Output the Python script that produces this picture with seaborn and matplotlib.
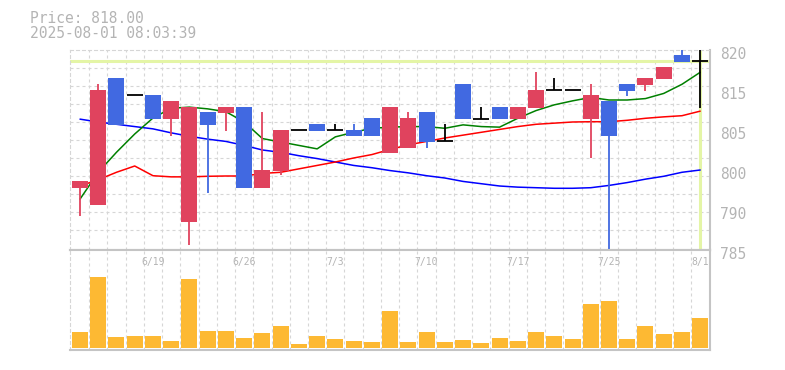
import numpy as np
import pandas as pd
import matplotlib
matplotlib.use("Agg")
import matplotlib.pyplot as plt
import matplotlib.transforms as mtransforms
import seaborn as sns

# ---------------- data ----------------
title_price = "Price: 818.00"
title_time = "2025-08-01 08:03:39"
current_price = 818.0

opens  = [795.9, 792.9, 815.1, 812.1, 812.1, 808.0, 789.9, 809.15, 809.0, 810.0,
          795.9, 798.9, 806.0, 807.05, 806.0, 806.0, 808.1, 802.0, 802.85, 809.15,
          804.1, 814.1, 808.0, 810.0, 808.0, 809.9, 813.0, 813.0, 808.0, 811.1,
          814.05, 813.9, 815.0, 819.2, 818.0]
closes = [797.1, 813.0, 806.9, 812.1, 808.0, 811.1, 810.0, 806.9, 810.0, 795.9,
          799.0, 806.0, 806.0, 805.9, 806.0, 805.0, 805.0, 810.0, 808.1, 803.9,
          804.1, 807.9, 808.0, 808.0, 810.0, 813.0, 813.0, 813.0, 812.1, 805.0,
          812.9, 815.1, 817.0, 817.9, 818.0]
highs  = [797.1, 814.05, 815.1, 812.1, 812.1, 811.1, 810.0, 809.15, 810.0, 810.0,
          809.15, 806.0, 806.0, 807.05, 807.05, 807.05, 808.1, 810.0, 809.15, 809.15,
          807.05, 814.1, 810.0, 810.0, 810.0, 816.15, 815.1, 813.0, 814.05, 811.1,
          814.05, 815.1, 817.0, 820.3, 820.3]
lows   = [791.0, 792.9, 806.9, 812.1, 808.0, 805.0, 785.9, 795.0, 805.9, 795.9,
          795.9, 798.1, 806.0, 805.9, 806.0, 805.0, 805.0, 802.0, 802.85, 802.85,
          804.1, 807.9, 808.0, 808.0, 808.0, 809.9, 813.0, 813.0, 801.05, 784.0,
          812.0, 812.9, 815.0, 817.9, 809.8]

ma_short = [793.9, 798.6, 802.1, 805.3, 808.1, 809.8, 810.0, 809.7, 809.2, 807.4,
            804.5, 803.9, 803.3, 802.7, 804.8, 805.6, 806.3, 806.5, 806.6, 806.6,
            806.3, 806.9, 806.6, 806.5, 808.05, 809.4, 810.4, 811.1, 811.7, 811.25,
            811.25, 811.5, 812.4, 814.0, 816.1]
ma_mid   = [796.2, 797.3, 798.6, 799.7, 798.0, 797.8, 797.8, 797.9, 797.95, 797.95,
            798.4, 798.6, 799.2, 799.8, 800.4, 801.1, 801.7, 802.6, 803.4, 804.0,
            804.6, 805.1, 805.6, 806.1, 806.6, 807.0, 807.2, 807.4, 807.45, 807.45,
            807.7, 808.05, 808.3, 808.5, 809.3]
ma_long  = [807.9, 807.4, 807.0, 806.6, 806.2, 805.5, 804.9, 804.4, 804.0, 803.3,
            802.5, 802.1, 801.5, 801.0, 800.4, 799.8, 799.4, 798.9, 798.5, 798.0,
            797.6, 797.0, 796.6, 796.2, 796.0, 795.9, 795.8, 795.8, 795.9, 796.3,
            796.8, 797.4, 797.9, 798.6, 799.0]

volumes = [46, 214, 31, 34, 34, 19, 208, 49, 49, 28, 43, 67, 10, 34, 25, 19, 16,
           112, 16, 46, 16, 22, 13, 28, 19, 46, 34, 25, 133, 142, 25, 67, 40, 46, 91]

date_idx = [4, 9, 14, 19, 24, 29, 34]
date_labels = ["6/19", "6/26", "7/3", "7/10", "7/17", "7/25", "8/1"]

ytick_vals = [820, 813, 806, 799, 792, 785]
ytick_labels = ["820", "815", "805", "800", "790", "785"]

# ---------------- style ----------------
sns.set_style("white")
plt.rcParams["font.family"] = ["DejaVu Sans Mono", "DejaVu Sans"]

RED = "#e0435e"
BLUE = "#4169e1"
VOL = "#fdb933"
GRID = "#d6d6d6"
AXC = "#c4c4c4"
TXT = "#b4b4b4"
HILITE = "#e4f5a6"
dash = (0, (2.7, 2.7))

idx = np.arange(len(closes))
df = pd.DataFrame({"i": idx, "open": opens, "close": closes, "high": highs,
                   "low": lows, "ma_s": ma_short, "ma_m": ma_mid, "ma_l": ma_long,
                   "vol": volumes})

W, H = 785, 370
fig = plt.figure(figsize=(W / 100, H / 100), dpi=100)
ax = fig.add_axes([70 / W, 1 - 250 / H, 640 / W, 200 / H])
axv = fig.add_axes([70 / W, 1 - 350 / H, 640 / W, 100 / H], sharex=ax)

xlim = (-0.548, 34.537)
ax.set_xlim(*xlim)
ax.set_ylim(785, 820)

# grid
minor_x = np.arange(0.5, len(closes) - 1, 1.0)
for a in (ax, axv):
    a.set_xticks(minor_x, minor=True)
    a.grid(False)
    a.grid(True, which="minor", axis="x", color=GRID, linestyle=dash, linewidth=0.8)
    a.tick_params(which="both", length=0)
    a.set_axisbelow(True)
    for s in ("left", "top"):
        a.spines[s].set_color(GRID)
        a.spines[s].set_linestyle(dash)
        a.spines[s].set_linewidth(0.8)
    for s in ("right", "bottom"):
        a.spines[s].set_color(AXC)
        a.spines[s].set_linewidth(1.5)
axv.spines["top"].set_color(AXC)
axv.spines["top"].set_linestyle("-")
axv.spines["top"].set_linewidth(1.5)

minor_y = [820 - 3.15 * k for k in range(1, 11)]
ax.set_yticks(minor_y, minor=True)
ax.grid(True, which="minor", axis="y", color=GRID, linestyle=dash, linewidth=0.8)

# highlight lines (current price / latest bar)
ax.axhline(current_price, color=HILITE, linewidth=2.2, zorder=1.5)
ax.axvline(idx[-1], color=HILITE, linewidth=2.2, zorder=1.5)

# moving averages
sns.lineplot(data=df, x="i", y="ma_l", color="#0000ff", linewidth=1.1, ax=ax, zorder=2)
sns.lineplot(data=df, x="i", y="ma_m", color="#ff0000", linewidth=1.1, ax=ax, zorder=2)
sns.lineplot(data=df, x="i", y="ma_s", color="#008000", linewidth=1.1, ax=ax, zorder=2)

# candles
cols = np.where(df["close"] > df["open"], RED,
                np.where(df["close"] < df["open"], BLUE, "#000000"))
ax.vlines(df["i"], df["low"], df["high"], colors=cols, linewidth=1.3, zorder=3)
body_w = 0.877
is_doji = df["close"] == df["open"]
nd = df[~is_doji]
ax.bar(nd["i"], (nd["close"] - nd["open"]).abs(), bottom=np.minimum(nd["open"], nd["close"]),
       width=body_w, color=cols[~is_doji.values], linewidth=0, zorder=4)
dj = df[is_doji]
ax.hlines(dj["close"], dj["i"] - body_w / 2, dj["i"] + body_w / 2, colors="#000000",
          linewidth=1.3, zorder=4)

# y ticks on right
ax.yaxis.tick_right()
ax.set_yticks(ytick_vals)
ax.set_yticklabels(ytick_labels)
ax.tick_params(axis="y", which="major", length=0, pad=7, labelsize=10.5, labelcolor=TXT)
off = mtransforms.ScaledTranslation(0, -3 / 100, fig.dpi_scale_trans)
for lab in ax.get_yticklabels():
    lab.set_transform(lab.get_transform() + off)
ax.set_xticks([])
ax.set_xlabel("")
ax.set_ylabel("")

# volume
sns.barplot(data=df, x="i", y="vol", native_scale=True, color=VOL, saturation=1,
            width=body_w, errorbar=None, linewidth=0, ax=axv, zorder=2)
axv.set_xlim(*xlim)
axv.set_ylim(-7, 295.7)
axv.set_yticks([])
axv.set_xticks([])
axv.set_xlabel("")
axv.set_ylabel("")
trans = mtransforms.blended_transform_factory(axv.transData, axv.transAxes)
for i, lab in zip(date_idx, date_labels):
    axv.text(i, 0.88, lab, transform=trans, ha="center", va="center",
             fontsize=7, color=TXT, zorder=5)

# header text
fig.text(30 / W, 1 - 22.7 / H, title_price, fontsize=10.5, color=TXT, va="baseline")
fig.text(30 / W, 1 - 37.5 / H, title_time, fontsize=10.5, color=TXT, va="baseline")

fig.savefig("out.png", dpi=100, facecolor="white")
